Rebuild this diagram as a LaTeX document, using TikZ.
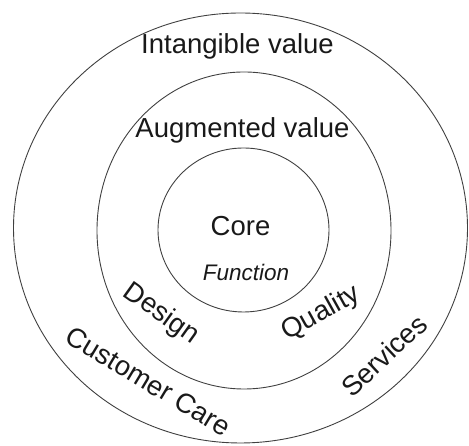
\documentclass[tikz,border=0pt]{standalone}
\usepackage{fontspec}
\setmainfont{Liberation Sans}
\usetikzlibrary{shapes.geometric}
\begin{document}
\begin{tikzpicture}[x=1pt,y=1pt,
  ring/.style={draw=black!75, line width=0.9pt, ellipse, inner sep=0pt},
  lbl/.style={font=\fontsize{27.5}{31}\selectfont, text=black!90, inner sep=0pt, anchor=base},
  smalllbl/.style={font=\fontsize{22.5}{26}\selectfont\itshape, text=black!90, inner sep=0pt, anchor=base}]
\useasboundingbox (0,0) rectangle (469,446);
\node[ring, minimum width=454pt, minimum height=430pt] (outer) at (240.5,218) {};
\node[ring, minimum width=294pt, minimum height=317pt] (middle) at (244,215.5) {};
\node[ring, minimum width=171pt, minimum height=164pt] (inner) at (243.5,216) {};
\node[lbl] (intangible) at (237.5,392) {Intangible value};
\node[lbl] (augmented) at (242.5,308) {Augmented value};
\node[lbl] (core) at (240.5,210) {Core};
\node[smalllbl] (function) at (246,165) {Function};
\node[lbl, rotate=-35.5] (design) at (156.7,126) {Design};
\node[lbl, rotate=29] (quality) at (324.6,126) {Quality};
\node[lbl, rotate=-31] (customer) at (143.7,56.7) {Customer Care};
\node[lbl, rotate=43] (services) at (390.6,83.4) {Services};
\end{tikzpicture}
\end{document}
